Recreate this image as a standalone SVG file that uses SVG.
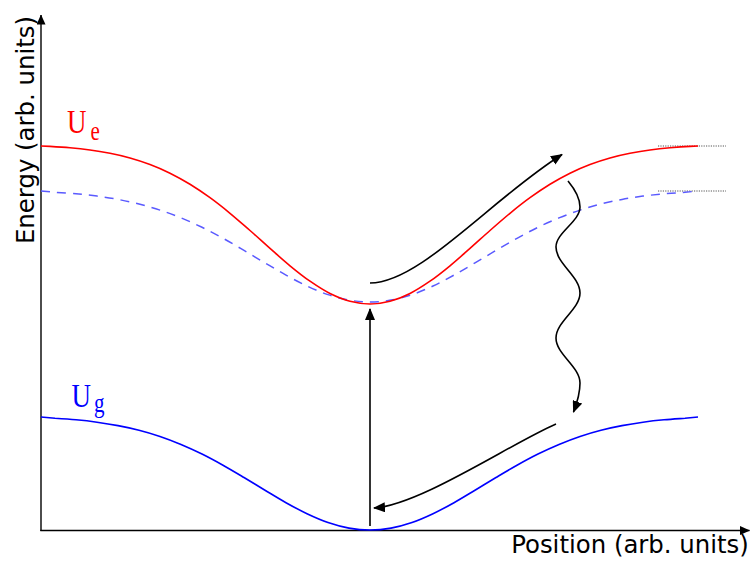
<svg xmlns="http://www.w3.org/2000/svg" width="750" height="563" viewBox="0 0 750 563">
<style>
.axis{stroke:#000;stroke-width:1.4;fill:none}
.arr{stroke:#000;stroke-width:1.6;fill:none;marker-end:url(#ah)}
.lbl{font-family:"DejaVu Sans",Verdana,sans-serif;font-size:24.4px;fill:#000}
.ul{font-family:"Liberation Serif","Times New Roman",serif;font-size:27px}
.dot{stroke:#555;stroke-width:1;stroke-dasharray:1.2 1.2;fill:none}
</style>
<defs>
<marker id="ah" viewBox="0 0 12 10" refX="11" refY="5" markerWidth="12" markerHeight="10" markerUnits="userSpaceOnUse" orient="auto"><path d="M0,0 L12,5 L0,10 z" fill="#000"/></marker>
<marker id="axh" viewBox="0 0 10 9" refX="9.5" refY="4.5" markerWidth="10" markerHeight="9" markerUnits="userSpaceOnUse" orient="auto"><path d="M0,0 L10,4.5 L0,9 z" fill="#000"/></marker>
</defs>
<g id="axes">
<line class="axis" x1="41" y1="531" x2="41" y2="15" marker-end="url(#axh)"/>
<line class="axis" x1="40.3" y1="530.5" x2="749.5" y2="530.5" marker-end="url(#axh)"/>
<text class="lbl" transform="translate(33.5,130) rotate(-90)" text-anchor="middle">Energy (arb. units)</text>
<text class="lbl" x="630" y="553" text-anchor="middle">Position (arb. units)</text>
</g>
<g id="asymptotes">
<line class="dot" x1="658" y1="146" x2="726" y2="146"/>
<line class="dot" x1="658" y1="191" x2="726" y2="191"/>
</g>
<g id="excited-shifted">
<path fill="none" stroke="#5a5aff" stroke-width="1.5" stroke-dasharray="9 7" d="M41,191 L55,192.3 S69,193.17 76,193.8 S90,195.17 97,196.1 S111,198.08 118,199.4 S132,202.22 139,204 S153,207.78 160,210.1 S174,215.03 181,217.9 S195,223.9 202,227.3 S216,234.45 223,238.3 S237,246.3 244,250.4 S258,258.78 265,262.9 S279,271.25 286,275.1 S300,282.75 307,286 S321,292.25 328,294.6 S342,298.87 349,300.1 S363,302 370,302 S384,301.33 391,300.1 S405,296.95 412,294.6 S426,289.25 433,286 S447,278.95 454,275.1 S468,267.02 475,262.9 S489,254.5 496,250.4 S510,242.15 517,238.3 S531,230.7 538,227.3 S552,220.77 559,217.9 S573,212.42 580,210.1 S594,205.78 601,204 S615,200.72 622,199.4 S636,197.03 643,196.1 S657,194.43 664,193.8 S678,192.77 685,192.3 L698,191"/>
</g>
<g id="excited">
<path fill="none" stroke="#ff0000" stroke-width="1.6" d="M41,146 L50,146.4 S63.3,147.2 70,147.8 S83.3,149.1 90,150 S103.3,152 110,153.3 S123.3,156.1 130,158 S143.3,162 150,164.5 S163.3,169.9 170,173.2 S183.3,180.2 190,184.3 S203.3,192.9 210,197.7 S223.3,207.8 230,213.3 S243.3,224.7 250,230.5 S263.3,242.5 270,248.4 S283.3,260.3 290,265.8 S303.3,276.6 310,281.2 S323.3,290.2 330,293.5 S343.3,299.6 350,301.3 S363.3,304 370,304 S383.3,303.1 390,301.3 S403.3,296.9 410,293.5 S423.3,285.8 430,281.2 S443.3,271.3 450,265.8 S463.3,254.3 470,248.4 S483.3,236.4 490,230.5 S503.3,218.8 510,213.3 S523.3,202.5 530,197.7 S543.3,188.4 550,184.3 S563.3,176.5 570,173.2 S583.3,167 590,164.5 S603.3,159.9 610,158 S623.3,154.6 630,153.3 S643.3,150.9 650,150 S663.3,148.4 670,147.8 S683.3,146.7 690,146.4 L698,146"/>
<text class="ul" fill="#ff0000" transform="translate(67,133) scale(1,1.25)">U<tspan font-size="21" dx="4" dy="5.6">e</tspan></text>
</g>
<g id="ground">
<path fill="none" stroke="#0000ff" stroke-width="1.6" d="M41,417 L55,418.3 S69,419.15 76,419.8 S90,421.23 97,422.2 S111,424.27 118,425.6 S132,428.4 139,430.2 S153,434.03 160,436.4 S174,441.47 181,444.4 S195,450.53 202,454 S216,461.28 223,465.2 S237,473.33 244,477.5 S258,486 265,490.2 S279,498.78 286,502.7 S300,510.4 307,513.7 S321,520.1 328,522.5 S342,526.85 349,528.1 S363,530 370,530 S384,529.35 391,528.1 S405,524.9 412,522.5 S426,517 433,513.7 S447,506.62 454,502.7 S468,494.4 475,490.2 S489,481.67 496,477.5 S510,469.12 517,465.2 S531,457.47 538,454 S552,447.33 559,444.4 S573,438.77 580,436.4 S594,432 601,430.2 S615,426.93 622,425.6 S636,423.17 643,422.2 S657,420.45 664,419.8 S678,418.77 685,418.3 L698,417"/>
<text class="ul" fill="#0000ff" transform="translate(71.5,407) scale(1,1.25)">U<tspan font-size="21" dx="3" dy="4">g</tspan></text>
</g>
<g id="connectors">
<path class="arr" d="M370,526 L370,309"/>
<path class="arr" d="M370,283 C420,283 490,200 562,154.5"/>
<path class="arr" d="M568,181 C575.5,190 580,198 580,207 C580,221.6 556,232.4 556,247 C556,263.7 580,276.3 580,293 C580,309.4 556,321.6 556,338 C556,354.4 580,366.6 580,383 C580,393 577,403 573.5,412"/>
<path class="arr" d="M556,424 C510,444 420,505 374,508"/>
</g>
</svg>
